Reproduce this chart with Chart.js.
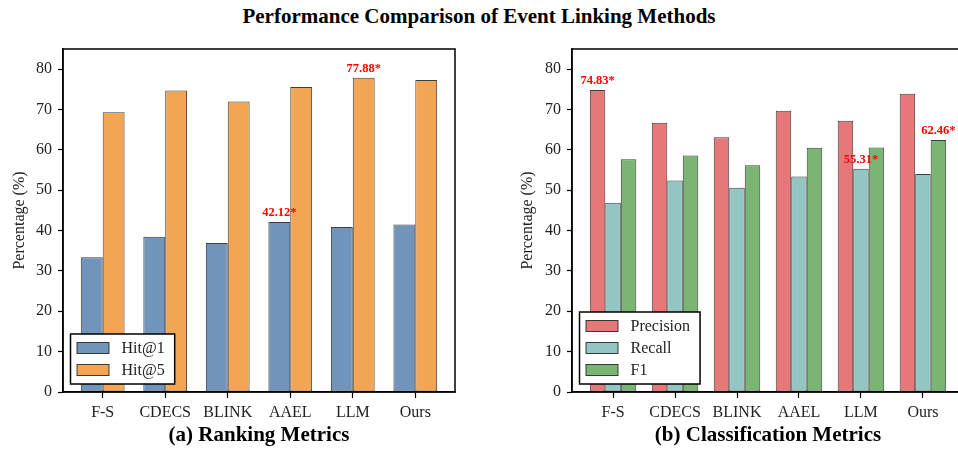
<!DOCTYPE html>
<html>
<head>
<meta charset="utf-8">
<script src="https://cdn.jsdelivr.net/npm/chart.js@4.4.1/dist/chart.umd.min.js"></script>
<style>
  html, body { margin: 0; padding: 0; background: #fff; }
  body { width: 958px; height: 449px; position: relative; overflow: hidden; }
  #title { position: absolute; left: 0; width: 958px; top: 4px; text-align: center;
           font: bold 21px "Liberation Serif", "Times New Roman", serif; color: #000; }
  canvas { position: absolute; top: 0; }
  #rank { left: 0; }
  #cls { left: 508px; }
</style>
</head>
<body>
<div id="title">Performance Comparison of Event Linking Methods</div>
<canvas id="rank" width="470" height="449"></canvas>
<canvas id="cls" width="462" height="449"></canvas>
<script>
const methods = ['F-S', 'CDECS', 'BLINK', 'AAEL', 'LLM', 'Ours'];
const hit1 = [33.4, 38.5, 36.9, 42.12, 40.9, 41.5];
const hit5 = [69.3, 74.7, 72.0, 75.6, 77.88, 77.3];
const precision = [74.83, 66.7, 63.1, 69.7, 67.2, 73.9];
const recall = [46.9, 52.4, 50.6, 53.4, 55.31, 54.0];
const f1 = [57.7, 58.6, 56.2, 60.5, 60.6, 62.46];
const yTicks = [0, 10, 20, 30, 40, 50, 60, 70, 80];
// [dataset, index] of the starred best values
const bestRank = [[0, 3], [1, 4]];
const bestCls = [[0, 0], [1, 4], [2, 5]];

const SERIF = '"Liberation Serif", "Times New Roman", serif';
const EDGE = 'rgba(40,40,40,0.9)';

const pts = (arr) => arr.map((v, i) => ({ x: i, y: v }));

// black box around the plot + matplotlib style legend + star labels
const extras = {
  id: 'extras',
  afterDatasetsDraw(chart, args, opts) {
    const { ctx, chartArea: a } = chart;
    ctx.save();
    // starred labels
    ctx.fillStyle = '#ff0000';
    ctx.font = 'bold 12.5px ' + SERIF;
    ctx.textAlign = 'center';
    ctx.textBaseline = 'bottom';
    opts.best.forEach(([d, i]) => {
      const bar = chart.getDatasetMeta(d).data[i];
      const v = chart.data.datasets[d].data[i].y;
      ctx.fillText(v.toFixed(2) + '*', bar.x, bar.y - 3);
    });
    // frame
    ctx.strokeStyle = '#000';
    ctx.lineWidth = 1.5;
    ctx.strokeRect(a.left, a.top, a.right - a.left, a.bottom - a.top);
    // legend
    ctx.font = '16px ' + SERIF;
    const ds = chart.data.datasets;
    const textW = Math.max(...ds.map(d => ctx.measureText(d.label).width));
    const w = 51 + textW + 10, h = ds.length * 22 + 6;
    const x0 = a.left + 7.5, y0 = a.bottom - 8 - h;
    ctx.fillStyle = '#fff';
    ctx.fillRect(x0, y0, w, h);
    ctx.lineWidth = 1.5;
    ctx.strokeStyle = '#000';
    ctx.strokeRect(x0, y0, w, h);
    ctx.textAlign = 'left';
    ctx.textBaseline = 'middle';
    ds.forEach((d, k) => {
      const cy = y0 + 14 + k * 22;
      ctx.fillStyle = d.backgroundColor;
      ctx.fillRect(x0 + 6.5, cy - 5.5, 32, 11);
      ctx.lineWidth = 1;
      ctx.strokeStyle = EDGE;
      ctx.strokeRect(x0 + 6.5, cy - 5.5, 32, 11);
      ctx.fillStyle = '#222';
      ctx.fillText(d.label, x0 + 51, cy + 1);
    });
    ctx.restore();
  }
};

function makeChart(id, datasets, group, pad, yWidth, yTitlePad, subtitle, best) {
  const half = group / 2;
  const margin = (methods.length - 1 + group) * 0.05;
  return new Chart(document.getElementById(id), {
    type: 'bar',
    data: { datasets },
    options: {
      responsive: false,
      devicePixelRatio: 1,
      animation: false,
      layout: { padding: { top: 49, right: pad, left: 0, bottom: 0 } },
      datasets: { bar: { categoryPercentage: group, barPercentage: 1.0, borderWidth: 1,
                         borderColor: EDGE, borderSkipped: false } },
      plugins: { legend: { display: false }, tooltip: { enabled: false }, extras: { best } },
      scales: {
        x: {
          type: 'linear',
          offset: false,
          bounds: 'data',
          min: -half - margin,
          max: methods.length - 1 + half + margin,
          afterBuildTicks: (s) => { s.ticks = methods.map((m, i) => ({ value: i })); },
          afterFit: (s) => { s.height = 57; },
          grid: { offset: false, drawOnChartArea: false, drawTicks: true, tickLength: 6,
                  tickColor: '#000', tickWidth: 1.2 },
          border: { display: true, color: '#000', width: 1.5 },
          ticks: { color: '#222', padding: 5, maxRotation: 0, autoSkip: false,
                   font: { family: SERIF, size: 16 }, callback: (v) => methods[v] },
          title: { display: true, text: subtitle, color: '#000', padding: { top: 0, bottom: 1 },
                   font: { family: SERIF, size: 21, weight: 'bold', lineHeight: 1.2 } }
        },
        y: {
          min: 0, max: 85,
          afterBuildTicks: (s) => { s.ticks = yTicks.map(v => ({ value: v })); },
          afterFit: (s) => { s.width = yWidth; },
          grid: { drawOnChartArea: false, drawTicks: true, tickLength: 5, tickColor: '#000', tickWidth: 1.2 },
          border: { display: true, color: '#000', width: 1.5 },
          ticks: { color: '#222', padding: 6, font: { family: SERIF, size: 16 } },
          title: { display: true, text: 'Percentage (%)', color: '#222', padding: { top: yTitlePad, bottom: 0 },
                   font: { family: SERIF, size: 16, lineHeight: 1.2 } }
        }
      }
    },
    plugins: [extras]
  });
}

makeChart('rank', [
  { label: 'Hit@1', data: pts(hit1), backgroundColor: '#7094BA' },
  { label: 'Hit@5', data: pts(hit5), backgroundColor: '#F2A555' }
], 0.7, 15, 63, 10, '(a) Ranking Metrics', bestRank);

makeChart('cls', [
  { label: 'Precision', data: pts(precision), backgroundColor: '#E6787A' },
  { label: 'Recall', data: pts(recall), backgroundColor: '#93C5C2' },
  { label: 'F1', data: pts(f1), backgroundColor: '#7AB574' }
], 0.75, 6, 64, 10, '(b) Classification Metrics', bestCls);
</script>
</body>
</html>
